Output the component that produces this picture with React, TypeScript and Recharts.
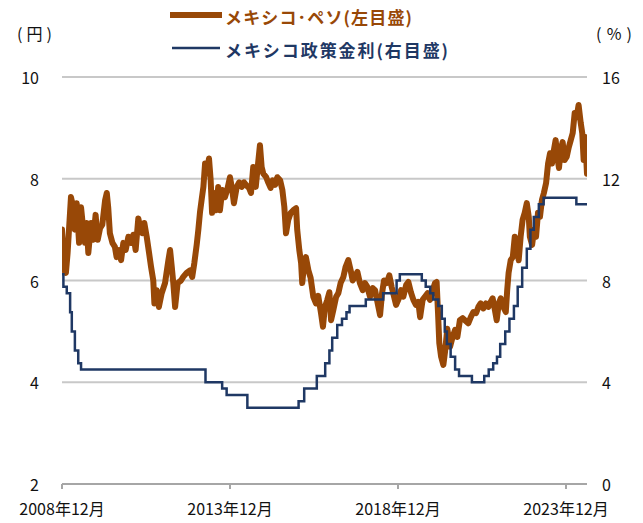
import React from 'react';
import { LineChart, Line, XAxis, YAxis, CartesianGrid } from 'recharts';

// months since 2008-12 (0 = 2008年12月)
const pesoMonths = [
  0, 0.3, 0.8, 1.4, 2.0, 2.5, 3.2, 4.0, 4.6, 5.25, 6.1, 6.8, 7.6, 8.2, 8.8, 9.4, 10.4, 11.2, 12.0, 12.75,
  13.6, 14.4, 15.4, 16.0, 16.5, 17.1, 18.0, 18.9, 19.5, 20.4, 21.1, 21.9, 22.75, 23.7, 24.6, 25.5, 26.3, 27.25, 27.9, 28.7,
  29.4, 30.25, 31.1, 31.8, 32.6, 33.0, 33.8, 34.6, 35.6, 36.8, 38.0, 38.6, 39.2, 39.75, 40.4, 41.3, 42.5, 43.3, 44.5, 45.7,
  46.5, 47.25, 48.1, 48.7, 49.3, 49.9, 50.5, 51.1, 51.7, 52.5, 53.1, 53.6, 54.3, 55.0, 55.8, 56.4, 57.25, 58.2, 59.0, 60.0,
  60.8, 61.4, 62.4, 63.3, 64.2, 65.0, 66.0, 66.8, 67.5, 68.3, 69.2, 69.9, 70.7, 71.3, 71.9, 72.9, 73.7, 74.5, 75.25, 76.1,
  76.9, 77.9, 78.7, 79.4, 80.0, 80.8, 81.7, 82.6, 83.6, 84.0, 84.75, 85.4, 85.8, 86.5, 87.1, 88.0, 88.8, 89.75, 90.7, 91.5,
  92.5, 93.2, 93.9, 94.75, 95.5, 96.1, 96.9, 97.9, 98.7, 99.5, 100.5, 101.3, 102.25, 103.1, 103.8, 104.6, 105.5, 106.4, 107.4, 108.2,
  109.0, 110.0, 111.0, 111.8, 112.75, 113.6, 114.3, 115.0, 116.0, 116.9, 117.75, 118.6, 119.3, 120.1, 121.1, 121.9, 122.9, 123.7, 124.6, 125.5,
  126.4, 127.25, 127.9, 128.8, 129.6, 130.6, 131.4, 132.4, 133.2, 133.8, 134.3, 134.75, 135.4, 136.2, 136.8, 137.6, 138.6, 139.5, 140.4, 141.2,
  142.1, 143.1, 143.9, 145.1, 146.0, 146.9, 147.9, 148.7, 149.5, 150.5, 151.4, 152.25, 153.1, 153.8, 154.6, 155.25, 156.0, 156.7, 157.6, 158.5,
  159.0, 159.5, 160.25, 161.0, 161.7, 162.4, 163.1, 163.8, 164.5, 165.25, 166.0, 166.7, 167.1, 167.9, 168.6, 169.3, 170.0, 170.7, 171.4, 172.1,
  172.9, 173.6, 174.3, 175.0, 175.7, 176.3, 176.9, 177.5, 178.1, 178.8, 179.5, 180.25, 181.0, 181.7, 182.4, 183.1, 183.8, 184.5, 185.25, 185.8,
  186.3, 186.9, 187.2, 187.5,
];

const pesoValues = [
  7.0, 6.7, 6.2, 6.15, 6.54, 7.0, 7.64, 7.44, 7.0, 7.52, 6.74, 7.44, 7.0, 6.74, 7.13, 6.54, 7.13, 6.8, 7.29, 6.8,
  7.03, 7.1, 7.58, 7.72, 7.44, 6.93, 6.74, 6.66, 6.46, 6.6, 6.4, 6.74, 6.6, 6.86, 6.74, 6.9, 6.6, 7.22, 7.05, 6.93,
  7.13, 6.86, 6.54, 6.27, 6.0, 5.55, 5.81, 5.48, 5.75, 5.95, 6.4, 6.6, 6.27, 5.95, 5.48, 5.95, 6.0, 6.07, 6.15, 6.2,
  6.07, 6.34, 6.7, 7.0, 7.35, 7.6, 7.84, 8.3, 8.1, 8.4, 7.97, 7.33, 7.72, 7.38, 7.84, 7.38, 7.78, 7.64, 7.78, 8.03,
  7.78, 7.52, 7.84, 7.93, 7.84, 7.93, 7.86, 7.82, 7.72, 8.23, 7.84, 8.23, 8.66, 8.23, 8.1, 8.03, 7.92, 7.82, 7.97, 7.88,
  8.03, 7.97, 7.78, 7.45, 6.93, 7.19, 7.33, 7.38, 7.42, 7.0, 6.6, 6.34, 5.95, 6.34, 6.46, 6.2, 6.05, 5.68, 5.55, 5.7,
  5.36, 5.09, 5.48, 5.62, 5.77, 5.22, 5.42, 5.68, 5.75, 5.95, 6.07, 6.27, 6.4, 6.2, 6.0, 6.07, 6.17, 5.95, 5.81, 5.95,
  5.88, 5.68, 5.85, 5.81, 5.55, 5.32, 5.75, 6.0, 5.95, 6.1, 5.87, 5.68, 5.52, 5.62, 5.81, 5.68, 5.91, 5.97, 5.77, 5.62,
  5.52, 5.58, 5.28, 5.62, 5.68, 5.75, 5.62, 5.81, 5.95, 5.97, 5.36, 4.77, 4.5, 4.34, 4.6, 5.05, 4.7, 4.89, 5.03, 4.89,
  5.22, 5.26, 5.22, 5.16, 5.28, 5.38, 5.36, 5.48, 5.55, 5.45, 5.55, 5.48, 5.58, 5.65, 5.42, 5.22, 5.55, 5.65, 5.48, 5.38,
  5.81, 6.15, 6.4, 6.46, 6.86, 6.74, 6.4, 6.86, 7.19, 7.33, 7.52, 7.25, 6.86, 6.7, 7.0, 6.86, 7.33, 7.25, 7.58, 7.72,
  7.92, 8.3, 8.5, 8.3, 8.57, 8.76, 8.43, 8.21, 8.57, 8.72, 8.37, 8.43, 8.62, 8.76, 8.9, 9.29, 9.21, 9.45, 9.1, 8.9,
  8.37, 8.82, 8.43, 8.1,
];

const rateMonths = [
  0, 0.5, 1.7, 2.9, 3.5, 4.6, 5.8, 6.8, 51.25, 57.2, 58.8, 66.2, 84.5, 86.5, 91, 94, 95.5, 96.5, 98.3, 100,
  101.6, 102.7, 108.5, 114.7, 119.5, 120.65, 128.5, 129.9, 131.5, 132.6, 134.4, 135.65, 136.7, 137.45, 138.8, 140.4, 141.8, 146.4, 150.8, 152.4,
  154, 155.35, 156.5, 158.3, 159.8, 161.4, 162.75, 164.35, 166, 167.3, 168.5, 170.3, 172, 183.7, 187.5,
];
const rateValues = [
  8.25, 7.75, 7.5, 6.75, 6.0, 5.25, 4.75, 4.5, 4.0, 3.75, 3.5, 3.0, 3.25, 3.75, 4.25, 4.75, 5.25, 5.75, 6.25, 6.5,
  6.75, 7.0, 7.25, 7.5, 8.0, 8.25, 8.0, 7.75, 7.5, 7.25, 7.0, 6.5, 6.0, 5.5, 5.0, 4.5, 4.25, 4.0, 4.25, 4.5,
  4.75, 5.0, 5.5, 6.0, 6.5, 7.0, 7.75, 8.5, 9.25, 10.0, 10.5, 11.0, 11.25, 11.0, 11.0,
];

const xTicks = [0, 60, 120, 180];
const xTickLabels = ['2008年12月', '2013年12月', '2018年12月', '2023年12月'];
const leftTicks = [2, 4, 6, 8, 10];
const rightTicks = [0, 4, 8, 12, 16];

const seriesNames = ['メキシコ･ペソ(左目盛)', 'メキシコ政策金利(右目盛)'];
const unitLeft = '(円)';
const unitRight = '(%)';

const pesoData = pesoMonths.map((m, i) => ({ m, peso: pesoValues[i] }));
const rateData = rateMonths.map((m, i) => ({ m, rate: rateValues[i] }));

const FONT = "'Noto Sans CJK JP', 'Noto Sans', sans-serif";
const PESO_COLOR = '#984807';
const RATE_COLOR = '#1f3864';
const TEXT_COLOR = '#111';

const XTick = (p: any) => {
  const idx = xTicks.indexOf(p.payload.value);
  return (
    <text x={p.x} y={508} textAnchor="middle" dominantBaseline="central" fontSize={16} fill={TEXT_COLOR} fontFamily={FONT}>
      {xTickLabels[idx]}
    </text>
  );
};
const LeftTick = (p: any) => (
  <text x={39} y={p.y} textAnchor="end" dominantBaseline="central" fontSize={16} fill={TEXT_COLOR} fontFamily={FONT}>
    {p.payload.value}
  </text>
);
const RightTick = (p: any) => (
  <text x={602} y={p.y} textAnchor="start" dominantBaseline="central" fontSize={16} fill={TEXT_COLOR} fontFamily={FONT}>
    {p.payload.value}
  </text>
);

export default function App() {
  return (
    <div style={{ position: 'absolute', left: 0, top: 0, width: 643, height: 523, background: '#fff', fontFamily: FONT }}>
      <LineChart width={643} height={523} margin={{ top: 77, right: 0, bottom: 0, left: 0 }}>
        <CartesianGrid yAxisId="left" vertical={false} stroke="#c8c8c8" strokeWidth={2} />
        <XAxis
          dataKey="m"
          type="number"
          domain={[0, 187.5]}
          ticks={xTicks}
          interval={0}
          allowDataOverflow
          height={39}
          axisLine={{ stroke: '#a6a6a6', strokeWidth: 2 }}
          tickLine={{ stroke: '#a6a6a6', strokeWidth: 2 }}
          tickSize={5}
          tick={XTick}
        />
        <YAxis yAxisId="left" domain={[2, 10]} ticks={leftTicks} width={62} axisLine={false} tickLine={false} tick={LeftTick} />
        <YAxis yAxisId="right" orientation="right" domain={[0, 16]} ticks={rightTicks} width={56} axisLine={false} tickLine={false} tick={RightTick} />
        <Line
          yAxisId="left"
          data={pesoData}
          dataKey="peso"
          type="linear"
          stroke={PESO_COLOR}
          strokeWidth={6}
          strokeLinejoin="round"
          strokeLinecap="round"
          dot={false}
          isAnimationActive={false}
        />
        <Line
          yAxisId="right"
          data={rateData}
          dataKey="rate"
          type="stepAfter"
          stroke={RATE_COLOR}
          strokeWidth={2.5}
          dot={false}
          isAnimationActive={false}
        />
      </LineChart>
      <svg width={643} height={523} style={{ position: 'absolute', left: 0, top: 0, pointerEvents: 'none' }}>
        <line x1={170} x2={222} y1={15} y2={15} stroke={PESO_COLOR} strokeWidth={6} />
        <text x={225} y={16} dominantBaseline="central" fontSize={17} fontWeight="bold" fill={PESO_COLOR} fontFamily={FONT} textLength={187} lengthAdjust="spacing">
          {seriesNames[0]}
        </text>
        <line x1={172} x2={220} y1={48} y2={48} stroke={RATE_COLOR} strokeWidth={2.5} />
        <text x={225} y={49} dominantBaseline="central" fontSize={17} fontWeight="bold" fill={RATE_COLOR} fontFamily={FONT} textLength={223} lengthAdjust="spacing">
          {seriesNames[1]}
        </text>
        <text x={17} y={33} dominantBaseline="central" fontSize={16} fill={TEXT_COLOR} fontFamily={FONT} textLength={35} lengthAdjust="spacing">
          {unitLeft}
        </text>
        <text x={596} y={33} dominantBaseline="central" fontSize={16} fill={TEXT_COLOR} fontFamily={FONT} textLength={36} lengthAdjust="spacing">
          {unitRight}
        </text>
      </svg>
    </div>
  );
}
